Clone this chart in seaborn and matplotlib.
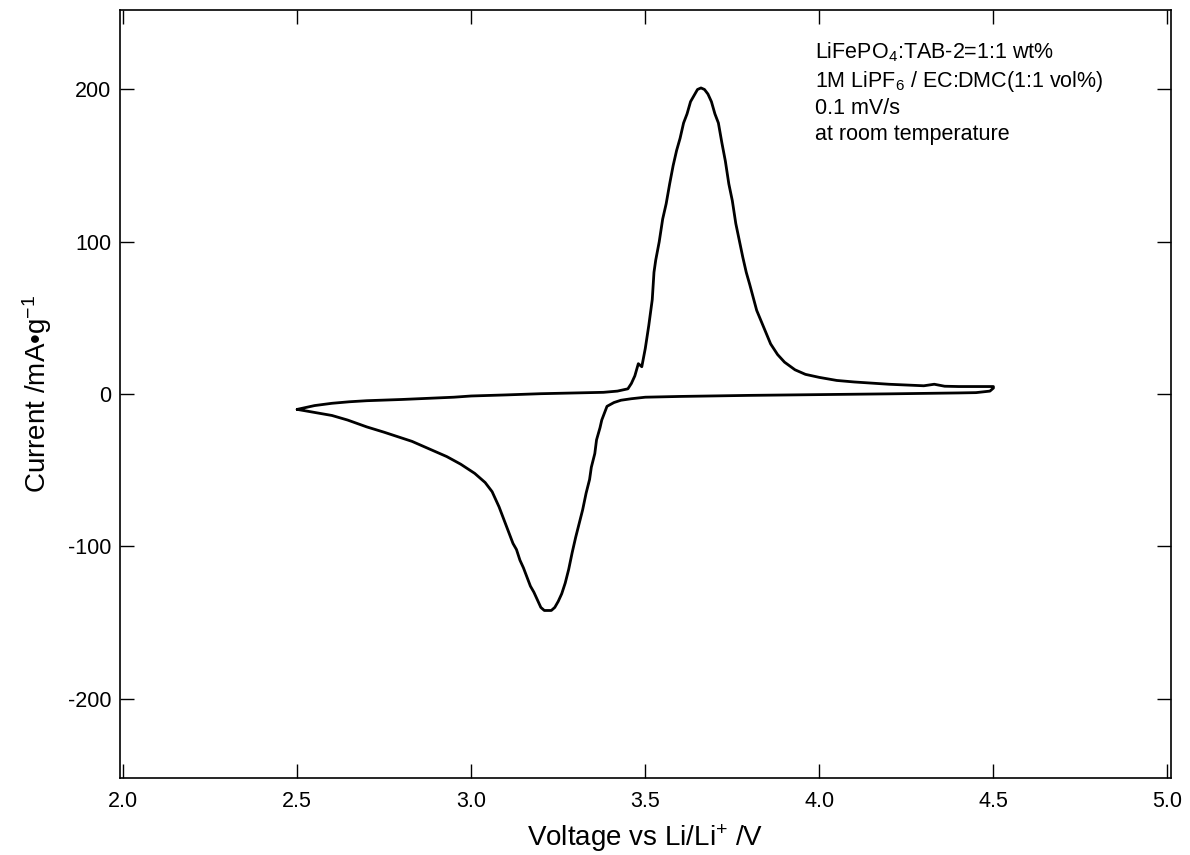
import numpy as np
import pandas as pd
import seaborn as sns
import matplotlib.pyplot as plt

# anodic sweep 2.5 V -> 4.5 V
v_ox = [2.50, 2.55, 2.60, 2.65, 2.70, 2.80, 2.90, 2.95, 3.00, 3.10, 3.20, 3.30, 3.38, 3.42, 3.45,
        3.46, 3.47, 3.48, 3.49, 3.50, 3.51, 3.52, 3.525, 3.53, 3.54, 3.55, 3.56, 3.57, 3.58, 3.59,
        3.60, 3.61, 3.62, 3.63, 3.64, 3.65, 3.66, 3.67, 3.68, 3.69, 3.70, 3.71, 3.72, 3.73, 3.74,
        3.75, 3.76, 3.77, 3.78, 3.79, 3.80, 3.82, 3.84, 3.86, 3.88, 3.90, 3.93, 3.96, 4.00, 4.05,
        4.10, 4.20, 4.30, 4.33, 4.36, 4.40, 4.50]
i_ox = [-10, -7.5, -6, -5, -4.3, -3.5, -2.5, -2.0, -1.2, -0.5, 0.3, 0.8, 1.2, 2.0, 3.5,
        7, 12, 20, 18, 30, 45, 62, 80, 88, 100, 115, 125, 138, 150, 160,
        168, 178, 184, 192, 196, 200, 201, 200, 197, 192, 184, 178, 165, 153, 138,
        127, 112, 101, 90, 80, 72, 55, 44, 33, 26, 21, 16, 13, 11, 9,
        8, 6.5, 5.5, 6.5, 5.2, 5, 5]

# cathodic sweep 4.5 V -> 2.5 V
v_red = [4.50, 4.49, 4.45, 4.40, 4.30, 4.20, 4.00, 3.80, 3.60, 3.50, 3.46, 3.43, 3.41, 3.39,
         3.385, 3.375, 3.37, 3.36, 3.355, 3.345, 3.34, 3.33, 3.32, 3.31, 3.30, 3.29, 3.28, 3.27,
         3.26, 3.25, 3.24, 3.23, 3.22, 3.21, 3.20, 3.19, 3.18, 3.17, 3.16, 3.15, 3.14, 3.13,
         3.12, 3.11, 3.10, 3.08, 3.06, 3.04, 3.01, 2.97, 2.93, 2.88, 2.83, 2.79, 2.75, 2.70,
         2.645, 2.60, 2.55, 2.50]
i_red = [4, 2, 1, 0.8, 0.5, 0.2, -0.3, -0.8, -1.5, -2, -3, -4, -5.5, -8,
         -11, -17, -22, -30, -39, -48, -56, -65, -76, -85, -94, -104, -115, -124,
         -131, -136, -140, -142, -142, -142, -140, -135, -130, -126, -120, -114, -109, -102,
         -98, -92, -86, -74, -64, -58, -52, -46, -41, -36, -31, -28, -25, -21.5,
         -17, -14, -12, -10]

x_ticks = [2.0, 2.5, 3.0, 3.5, 4.0, 4.5, 5.0]
y_ticks = [-200, -100, 0, 100, 200]

notes = [r'LiFePO$_\mathregular{4}$:TAB-2=1:1 wt%',
         r'1M LiPF$_\mathregular{6}$ / EC:DMC(1:1 vol%)',
         '0.1 mV/s',
         'at room temperature']

df = pd.DataFrame({'V': v_ox + v_red, 'I': i_ox + i_red})

sns.set_style('ticks')
plt.rcParams['font.family'] = ['Liberation Sans', 'DejaVu Sans']
plt.rcParams['mathtext.fontset'] = 'custom'
plt.rcParams['mathtext.rm'] = 'Liberation Sans'
plt.rcParams['mathtext.it'] = 'Liberation Sans:italic'
plt.rcParams['axes.unicode_minus'] = False
plt.rcParams['text.color'] = 'black'
plt.rcParams['axes.labelcolor'] = 'black'

fig = plt.figure(figsize=(11.9, 8.55), dpi=100)
ax = fig.add_axes([0.1008, 0.090, 0.8832, 0.898])

sns.lineplot(data=df, x='V', y='I', sort=False, estimator=None, color='black', lw=2.0, ax=ax)

ax.set_xlim(1.991, 5.01)
ax.set_ylim(-252, 252)
ax.set_xticks(x_ticks)
ax.set_xticklabels([f'{t:.1f}' for t in x_ticks])
ax.set_yticks(y_ticks)
ax.tick_params(direction='in', length=10, width=1, top=True, right=True,
               labelsize=15.5, colors='black')
ax.tick_params(axis='x', pad=9)
ax.tick_params(axis='y', pad=6)
for s in ax.spines.values():
    s.set_linewidth(1.2)
    s.set_color('black')

ax.set_xlabel(r'Voltage vs Li/Li$^\mathregular{+}$ /V', fontsize=20, labelpad=8)
ax.set_ylabel(r'Current /mA•g$^\mathregular{-1}$', fontsize=20, labelpad=10)

for k, txt in enumerate(notes):
    ax.text(0.661, [0.9375, 0.900, 0.8646, 0.8307][k], txt, transform=ax.transAxes,
            fontsize=15.5, va='baseline', ha='left', color='black')

fig.savefig('out.png', dpi=100)
